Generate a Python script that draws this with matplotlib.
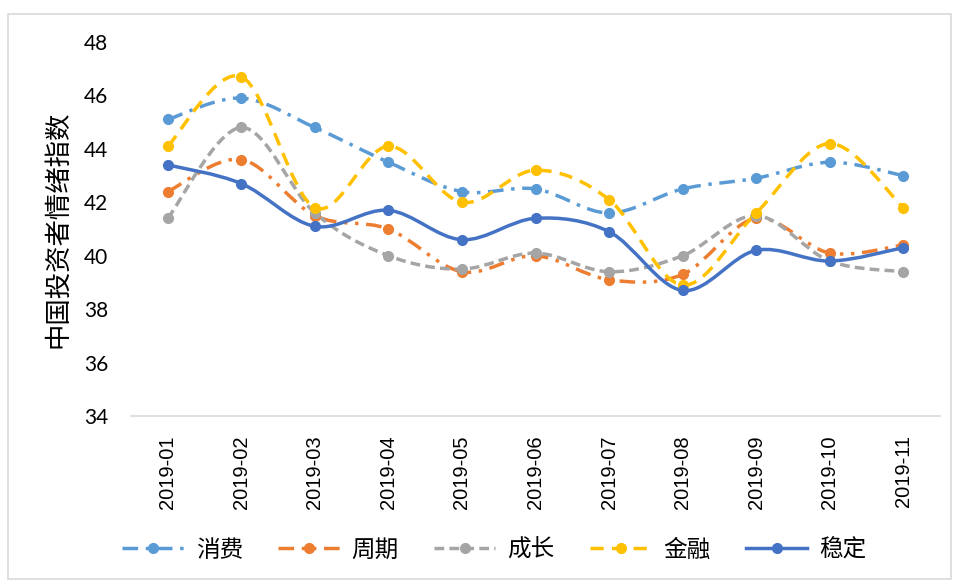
import matplotlib
matplotlib.use("Agg")
import matplotlib.pyplot as plt
from matplotlib.path import Path
from matplotlib.patches import PathPatch, Rectangle
from matplotlib.lines import Line2D

months = ["2019-01", "2019-02", "2019-03", "2019-04", "2019-05", "2019-06",
          "2019-07", "2019-08", "2019-09", "2019-10", "2019-11"]
xiaofei = [45.1, 45.9, 44.8, 43.5, 42.4, 42.5, 41.6, 42.5, 42.9, 43.5, 43.0]
zhouqi = [42.4, 43.6, 41.5, 41.0, 39.4, 40.0, 39.1, 39.3, 41.4, 40.1, 40.4]
chengzhang = [41.4, 44.8, 41.6, 40.0, 39.5, 40.1, 39.4, 40.0, 41.5, 39.8, 39.4]
jinrong = [44.1, 46.7, 41.8, 44.1, 42.0, 43.2, 42.1, 38.9, 41.6, 44.2, 41.8]
wending = [43.4, 42.7, 41.1, 41.7, 40.6, 41.4, 40.9, 38.7, 40.2, 39.8, 40.3]

series = [
    ("消费", xiaofei, "#5B9BD5", (0, (4.5, 2.2, 1, 2.2))),
    ("周期", zhouqi, "#ED7D31", (0, (4.5, 2.2, 1, 2.2, 1, 2.2))),
    ("成长", chengzhang, "#A5A5A5", (0, (2.8, 1.5))),
    ("金融", jinrong, "#FFC000", (0, (3.8, 2.4))),
    ("稳定", wending, "#4472C4", "-"),
]

cjk = ["Noto Sans CJK SC", "DejaVu Sans"]
lw = 2.5
ms = 7


def smooth_path(xs, ys):
    # excel style smoothed line: cubic bezier through every point
    n = len(xs)
    verts = [(xs[0], ys[0])]
    codes = [Path.MOVETO]
    for i in range(n - 1):
        x0, y0 = (xs[i - 1], ys[i - 1]) if i > 0 else (xs[i], ys[i])
        x1, y1 = xs[i], ys[i]
        x2, y2 = xs[i + 1], ys[i + 1]
        x3, y3 = (xs[i + 2], ys[i + 2]) if i + 2 < n else (x2, y2)
        c1 = (x1 + (x2 - x0) / 6, y1 + (y2 - y0) / 6)
        c2 = (x2 - (x3 - x1) / 6, y2 - (y3 - y1) / 6)
        verts += [c1, c2, (x2, y2)]
        codes += [Path.CURVE4] * 3
    return Path(verts, codes)


fig = plt.figure(figsize=(9.58, 5.83), dpi=100)
ax = fig.add_axes([131 / 958, 1 - 416 / 583, 809 / 958, 374 / 583])

xs = list(range(len(months)))
handles = []
for name, vals, color, ls in series:
    patch = PathPatch(smooth_path(xs, vals), facecolor="none", edgecolor=color,
                      lw=lw, linestyle=ls, capstyle="butt")
    ax.add_patch(patch)
    ax.plot(xs, vals, "o", color=color, markersize=ms, zorder=3)
    handles.append(Line2D([], [], color=color, lw=lw, linestyle=ls,
                          marker="o", markersize=ms, label=name))

ax.set_xlim(-0.5, len(months) - 0.5)
ax.set_ylim(34, 48)
ax.set_yticks(range(34, 49, 2))
ax.set_yticklabels([str(v) for v in range(34, 49, 2)], fontsize=15, family="Lato")
ax.set_xticks(xs)
ax.set_xticklabels(months, rotation=90, fontsize=14.5, family="Liberation Sans")
ax.tick_params(axis="both", length=0)
ax.tick_params(axis="y", pad=16.5)
ax.tick_params(axis="x", pad=14)
for side in ["top", "right", "left"]:
    ax.spines[side].set_visible(False)
ax.spines["bottom"].set_color("#D9D9D9")
ax.spines["bottom"].set_linewidth(1.2)

ax.set_ylabel("中国投资者情绪指数", family=cjk, fontsize=19)
ax.yaxis.set_label_coords(-0.074, 0.5)

fig.legend(handles=handles, loc="center", bbox_to_anchor=(0.516, 0.0566),
           ncol=5, frameon=False, prop={"family": cjk, "size": 17},
           handlelength=2.6, handletextpad=0.5, columnspacing=1.5)

fig.add_artist(Rectangle((8 / 958, 1 - 579 / 583), 943 / 958, 565 / 583,
                         transform=fig.transFigure, fill=False,
                         edgecolor="#D9D9D9", lw=1.2))

fig.savefig("out.png", dpi=100)
